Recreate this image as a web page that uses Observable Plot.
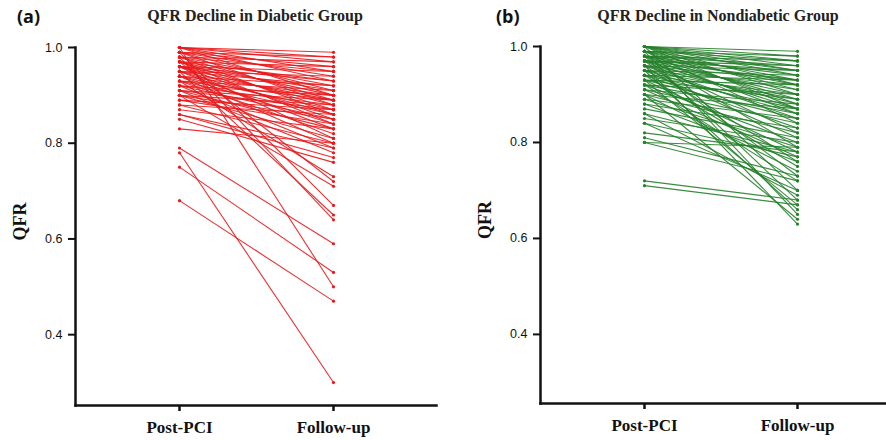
<!DOCTYPE html>
<html>
<head>
<meta charset="utf-8">
<script src="https://cdn.jsdelivr.net/npm/d3@7"></script>
<script src="https://cdn.jsdelivr.net/npm/@observablehq/plot@0.6"></script>
<style>
  html, body { margin: 0; padding: 0; background: #fff; overflow: hidden; }
  #wrap { position: relative; width: 886px; height: 440px; overflow: hidden; }
  .panel { position: absolute; top: 0; height: 440px; }
  .tag { position: absolute; top: 4px; font-family: "Open Sans", sans-serif; font-weight: 700; font-size: 18px; color: #111; }
  .title { position: absolute; top: 7px; font-family: "Liberation Serif", serif; font-weight: 700; font-size: 16px; color: #222; text-align: center; white-space: nowrap; }
  .plot { position: absolute; top: 35px; left: 0; }
</style>
</head>
<body>
<div id="wrap">
  <div class="panel" id="pa" style="left:0;width:443px;">
    <div class="tag" style="left:17px;">(a)</div>
    <div class="title" style="left:105px;width:300px;">QFR Decline in Diabetic Group</div>
    <div class="plot" id="plotA"></div>
  </div>
  <div class="panel" id="pb" style="left:443px;width:460px;">
    <div class="tag" style="left:53px;">(b)</div>
    <div class="title" style="left:125px;width:300px;">QFR Decline in Nondiabetic Group</div>
    <div class="plot" id="plotB"></div>
  </div>
</div>
<script>
// Timepoints (x categories)
const timepoints = ["Post-PCI", "Follow-up"];
// Y tick values
const yTicks = [0.4, 0.6, 0.8, 1.0];

// Diabetic group: QFR post-PCI and at follow-up (paired by index)
const diabeticPost = [
  1.00,1.00,1.00,1.00,1.00,1.00,1.00,
  0.99,0.99,0.99,0.99,0.99,0.99,
  0.98,0.98,0.98,0.98,0.98,0.98,
  0.97,0.97,0.97,0.97,0.97,0.97,
  0.96,0.96,0.96,0.96,0.96,0.96,
  0.95,0.95,0.95,0.95,0.95,0.95,
  0.94,0.94,0.94,0.94,0.94,
  0.93,0.93,0.93,0.93,0.93,
  0.92,0.92,0.92,0.92,
  0.91,0.91,0.91,0.91,
  0.90,0.90,0.90,0.90,
  0.89,0.89,0.88,0.88,0.87,0.86,0.86,0.85,0.83,
  0.79,0.78,0.75,0.68
];
const diabeticFollow = [
  0.99,0.98,0.97,0.95,0.93,0.50,0.90,
  0.98,0.96,0.94,0.91,0.88,0.67,
  0.97,0.95,0.92,0.89,0.86,0.64,
  0.96,0.93,0.90,0.87,0.84,0.72,
  0.95,0.93,0.91,0.88,0.85,0.81,
  0.94,0.92,0.89,0.86,0.83,0.65,
  0.92,0.90,0.87,0.84,0.80,
  0.91,0.89,0.86,0.82,0.73,
  0.90,0.88,0.85,0.79,
  0.89,0.87,0.83,0.78,
  0.88,0.85,0.81,0.71,
  0.87,0.84,0.86,0.80,0.83,0.79,0.77,0.76,0.80,
  0.59,0.30,0.53,0.47
];

// Nondiabetic group: QFR post-PCI and at follow-up (paired by index)
const nondiabeticPost = [
  1.00,1.00,1.00,1.00,1.00,1.00,1.00,1.00,1.00,1.00,
  0.99,0.99,0.99,0.99,0.99,0.99,0.99,0.99,
  0.98,0.98,0.98,0.98,0.98,0.98,0.98,0.98,
  0.97,0.97,0.97,0.97,0.97,0.97,0.97,
  0.96,0.96,0.96,0.96,0.96,0.96,0.96,
  0.95,0.95,0.95,0.95,0.95,0.95,
  0.94,0.94,0.94,0.94,0.94,
  0.93,0.93,0.93,0.93,0.93,
  0.92,0.92,0.92,0.92,
  0.91,0.91,0.91,
  0.90,0.90,0.90,0.90,
  0.89,0.89,0.88,0.88,0.87,0.86,0.86,0.85,0.84,0.84,0.82,0.81,0.80,0.80,
  0.72,0.71
];
const nondiabeticFollow = [
  0.99,0.98,0.97,0.96,0.95,0.94,0.92,0.90,0.87,0.70,
  0.98,0.97,0.95,0.93,0.91,0.88,0.84,0.65,
  0.97,0.96,0.94,0.92,0.89,0.86,0.79,0.68,
  0.96,0.95,0.93,0.90,0.87,0.82,0.73,
  0.95,0.93,0.91,0.88,0.85,0.76,0.63,
  0.94,0.92,0.89,0.86,0.81,0.66,
  0.93,0.90,0.87,0.83,0.75,
  0.92,0.89,0.85,0.78,0.67,
  0.90,0.86,0.80,0.72,
  0.88,0.84,0.77,
  0.87,0.82,0.74,0.64,
  0.85,0.79,0.83,0.76,0.81,0.78,0.69,0.80,0.77,0.70,0.78,0.73,0.79,0.72,
  0.68,0.67
];

function makePanel(post, follow, color, opts) {
  const pairs = post.map((p, i) => ({post: p, follow: follow[i]}));
  const pts = pairs.flatMap(d => [
    {t: timepoints[0], v: d.post},
    {t: timepoints[1], v: d.follow}
  ]);
  return Plot.plot({
    width: opts.width,
    height: 405,
    marginLeft: opts.marginLeft,
    marginRight: opts.marginRight,
    marginTop: opts.marginTop,
    marginBottom: opts.marginBottom,
    style: {fontFamily: "'Liberation Sans', Arial, sans-serif", background: "#fff", color: "#111"},
    x: {type: "point", domain: timepoints, padding: 0.67, align: opts.align},
    y: {domain: [opts.yMin, 1.0]},
    marks: [
      Plot.link(pairs, {
        x1: () => timepoints[0], y1: "post",
        x2: () => timepoints[1], y2: "follow",
        stroke: color, strokeWidth: 1.1, strokeOpacity: 0.9
      }),
      Plot.dot(pts, {x: "t", y: "v", r: 1.6, fill: color, stroke: "none"}),
      Plot.frame({anchor: "left", stroke: "#111", strokeWidth: 2.5}),
      Plot.frame({anchor: "bottom", stroke: "#111", strokeWidth: 2.5}),
      Plot.axisY({ticks: yTicks, tickFormat: d => d.toFixed(1), tickSize: 7, tickPadding: 6,
        strokeWidth: 2, fontSize: 12.5, label: null}),
      Plot.axisX({tickSize: 6, tickPadding: 9, strokeWidth: 2.5, fontSize: 17,
        fontWeight: "bold", fontFamily: "'Liberation Serif', 'Times New Roman', serif", label: null}),
      Plot.text(["QFR"], {frameAnchor: "left", text: d => d, rotate: -90, dx: -55, dy: 14,
        fontSize: 18, fontWeight: "bold", fontFamily: "'Liberation Serif', 'Times New Roman', serif", fill: "#111"})
    ]
  });
}

document.getElementById("plotA").append(makePanel(diabeticPost, diabeticFollow, "#e8191c",
  {width: 443, marginLeft: 75, marginRight: 7, marginTop: 12, marginBottom: 35, yMin: 0.252, align: 0.5}));
document.getElementById("plotB").append(makePanel(nondiabeticPost, nondiabeticFollow, "#25802a",
  {width: 457, marginLeft: 97, marginRight: 0, marginTop: 11, marginBottom: 37, yMin: 0.256, align: 0.5}));
</script>
</body>
</html>
